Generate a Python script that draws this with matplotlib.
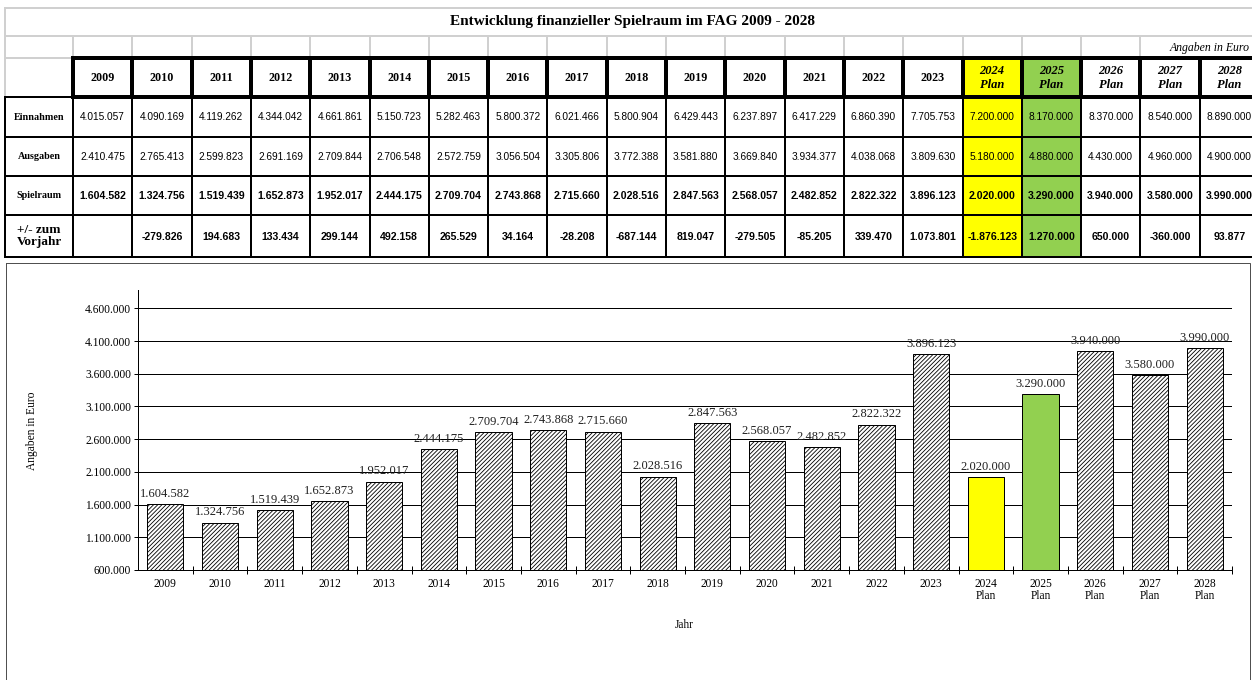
import matplotlib.pyplot as plt
import matplotlib.patches as mpatches
import numpy as np

years = ['2009', '2010', '2011', '2012', '2013', '2014', '2015', '2016', '2017',
         '2018', '2019', '2020', '2021', '2022', '2023',
         '2024\nPlan', '2025\nPlan', '2026\nPlan', '2027\nPlan', '2028\nPlan']
einnahmen = [4015057, 4090169, 4119262, 4344042, 4661861, 5150723, 5282463,
             5800372, 6021466, 5800904, 6429443, 6237897, 6417229, 6860390,
             7705753, 7200000, 8170000, 8370000, 8540000, 8890000]
ausgaben = [2410475, 2765413, 2599823, 2691169, 2709844, 2706548, 2572759,
            3056504, 3305806, 3772388, 3581880, 3669840, 3934377, 4038068,
            3809630, 5180000, 4880000, 4430000, 4960000, 4900000]
spielraum = [1604582, 1324756, 1519439, 1652873, 1952017, 2444175, 2709704,
             2743868, 2715660, 2028516, 2847563, 2568057, 2482852, 2822322,
             3896123, 2020000, 3290000, 3940000, 3580000, 3990000]
diff_vorjahr = [None, -279826, 194683, 133434, 299144, 492158, 265529, 34164,
                -28208, -687144, 819047, -279505, -85205, 339470, 1073801,
                -1876123, 1270000, 650000, -360000, 93877]
highlight = {'2024\nPlan': '#FFFF00', '2025\nPlan': '#92D050'}

SERIF = 'Liberation Serif'
SANS = 'Liberation Sans'
PX = 0.72  # one pixel in points at dpi 100


def de(v):
    """German number format with dots."""
    return f"{v:,.0f}".replace(",", ".")


fig = plt.figure(figsize=(12.52, 6.8), dpi=100)

# overlay axes in pixel coordinates for the table and the frame
tab = fig.add_axes([0, 0, 1, 1])
tab.set_xlim(0, 1252)
tab.set_ylim(680, 0)
tab.axis('off')

# ---------------- table ----------------
x0 = 5
col0 = 73
cw = 59.3
edges = [col0 + cw * i for i in range(len(years) + 1)]
y_top, y_sub, y_head, y_head_end = 8, 36, 58, 97
row_edges = [97, 137, 176, 215, 257]
grey = '#D0D0D0'

# colored plan columns
for i, y in enumerate(years):
    if y in highlight:
        tab.add_patch(mpatches.Rectangle((edges[i], y_head), cw, row_edges[-1] - y_head,
                                         facecolor=highlight[y], edgecolor='none', zorder=1))

# light grey grid of the upper rows
tab.plot([x0, 1252], [y_top, y_top], color=grey, lw=2 * PX, zorder=2)
tab.plot([x0, 1252], [y_sub, y_sub], color=grey, lw=2 * PX, zorder=2)
tab.plot([x0, col0], [y_head, y_head], color=grey, lw=2 * PX, zorder=2)
tab.plot([x0, x0], [y_top, y_head_end], color=grey, lw=2 * PX, zorder=2)
for e in edges[:-2]:
    tab.plot([e, e], [y_sub, y_head], color=grey, lw=2 * PX, zorder=2)

# thick header borders
tab.plot([col0, edges[-1]], [y_head, y_head], color='black', lw=4 * PX, zorder=3)
tab.plot([col0, edges[-1]], [y_head_end, y_head_end], color='black', lw=4 * PX, zorder=3)
for e in edges:
    tab.plot([e, e], [y_head, y_head_end], color='black', lw=4 * PX, zorder=3)

# data row borders
for r in row_edges:
    tab.plot([x0, edges[-1]], [r, r], color='black', lw=2 * PX, zorder=3)
for e in [x0] + edges:
    tab.plot([e, e], [row_edges[0], row_edges[-1]], color='black', lw=2 * PX, zorder=3)

tab.text(632, 22, 'Entwicklung finanzieller Spielraum im FAG 2009 - 2028',
         ha='center', va='center', fontsize=11, fontweight='bold', family=SERIF)
tab.text(1250, 48, 'Angaben in Euro', ha='right', va='center', fontsize=8.5,
         style='italic', family=SERIF)

centers = [(edges[i] + edges[i + 1]) / 2 for i in range(len(years))]
for i, y in enumerate(years):
    plan = 'Plan' in y
    tab.text(centers[i], 78, y, ha='center', va='center', fontsize=9 if plan else 8.7,
             fontweight='bold', style='italic' if plan else 'normal',
             family=SERIF, linespacing=1.15, zorder=4)

row_mid = [(row_edges[k] + row_edges[k + 1]) / 2 for k in range(4)]
row_labels = ['Einnahmen', 'Ausgaben', 'Spielraum', '+/- zum\nVorjahr']
for k, lab in enumerate(row_labels):
    big = k == 3
    tab.text((x0 + col0) / 2, row_mid[k], lab, ha='center', va='center',
             fontsize=9.5 if big else 7.3, fontweight='bold', family=SERIF,
             linespacing=1.1)

rows = [einnahmen, ausgaben, spielraum, diff_vorjahr]
for k, vals in enumerate(rows):
    bold = k >= 2
    for i, v in enumerate(vals):
        if v is None:
            continue
        tab.text(centers[i], row_mid[k] + 0.5, de(v), ha='center', va='center',
                 fontsize=7.6 if bold else 7.3, fontweight='bold' if bold else 'normal',
                 family=SANS, zorder=4)

# ---------------- chart ----------------
tab.add_patch(mpatches.Rectangle((6, 263), 1244, 420, facecolor='none',
                                 edgecolor='#505050', lw=1 * PX))
tab.text(32, 431, 'Angaben in Euro', rotation=90, ha='center', va='center',
         fontsize=8.3, family=SERIF)
tab.text(684, 625, 'Jahr', ha='center', va='center', fontsize=8.3, family=SERIF)

plt.rcParams['hatch.linewidth'] = 0.6

ax = fig.add_axes([138 / 1252, (680 - 570) / 680, (1232 - 138) / 1252, (570 - 290) / 680])
x = np.arange(len(years))
colors = [highlight.get(y, 'white') for y in years]
hatches = ['' if y in highlight else '////////' for y in years]
bars = ax.bar(x, spielraum, width=0.66, bottom=0, color=colors,
              edgecolor='black', linewidth=1 * PX, zorder=3)
for b, h in zip(bars, hatches):
    b.set_hatch(h)

ax.bar_label(bars, labels=[de(v) for v in spielraum], padding=3,
             fontsize=9, family=SERIF, color='#202020', zorder=4)

ax.set_xlim(-0.5, len(years) - 0.5)
ax.set_ylim(600000, 4880000)
ax.set_yticks(np.arange(600000, 4600001, 500000))
ax.set_yticklabels([de(v) for v in np.arange(600000, 4600001, 500000)],
                   fontsize=8.3, family=SERIF)
ax.yaxis.grid(True, color='black', lw=1 * PX)
ax.set_axisbelow(True)

ax.set_xticks(np.arange(0.5, len(years), 1))
ax.set_xticklabels([])
ax.set_xticks(x, minor=True)
ax.set_xticklabels(years, minor=True, fontsize=8.3, family=SERIF, linespacing=0.95)
ax.tick_params(axis='x', which='major', direction='inout', length=6, width=1 * PX)
ax.tick_params(axis='x', which='minor', length=0, pad=6)
ax.tick_params(axis='y', direction='out', length=3, width=1 * PX, pad=2)

for s in ['top', 'right']:
    ax.spines[s].set_visible(False)
for s in ['left', 'bottom']:
    ax.spines[s].set_linewidth(1 * PX)

plt.savefig('out.png', dpi=100)
